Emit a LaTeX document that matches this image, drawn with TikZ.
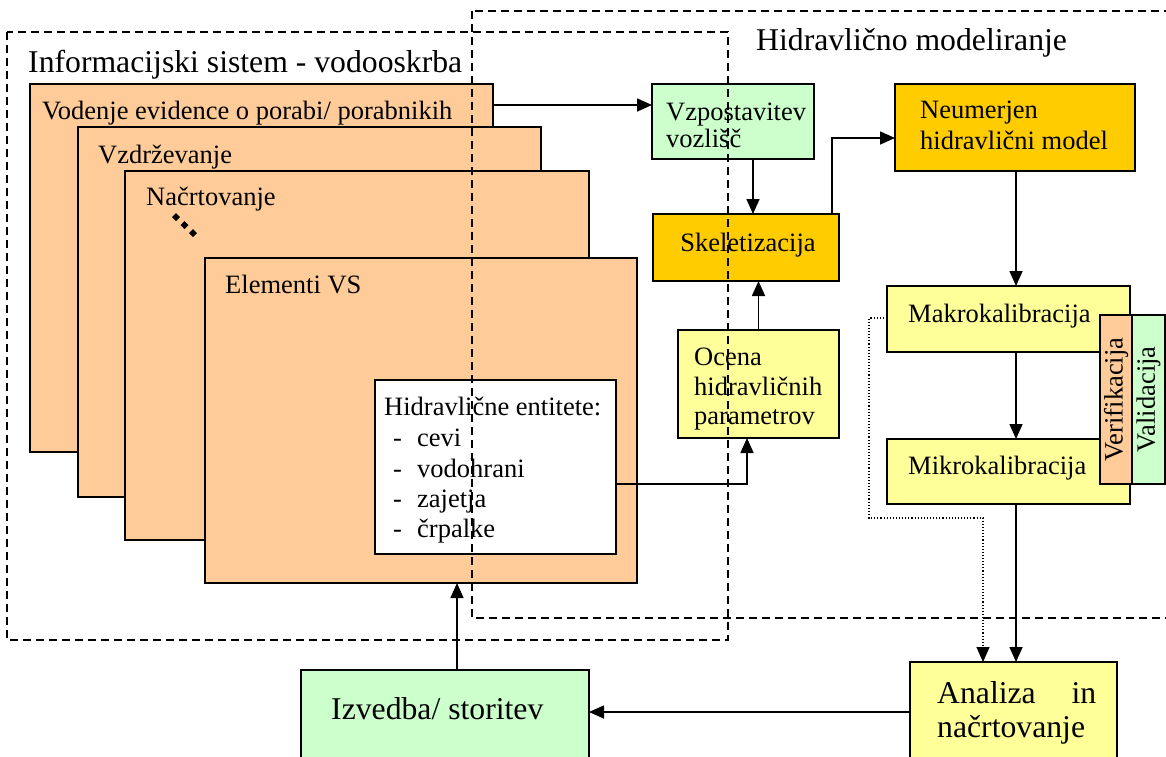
\documentclass[tikz,border=0pt]{standalone}
\usepackage{fontspec}
\setmainfont{Liberation Serif}
\usetikzlibrary{arrows.meta}
\definecolor{peach}{HTML}{FFCC99}
\definecolor{mint}{HTML}{CCFFCC}
\definecolor{gold}{HTML}{FFCC00}
\definecolor{lemon}{HTML}{FFFF99}

\begin{document}
\begin{tikzpicture}[x=1pt,y=-1pt,
  blk/.style={draw=black, line width=1.8pt, inner sep=0pt, outer sep=0pt, anchor=north west},
  lbl/.style={inner sep=0pt, anchor=base west, font=\fontsize{26.5}{30}\selectfont},
  biglbl/.style={inner sep=0pt, anchor=base west, font=\fontsize{31.7}{34}\selectfont},
  conn/.style={line width=1.6pt, -{Triangle[length=15pt,width=13pt]}},
  dots/.style={line width=1.1pt, dotted, -{Triangle[length=15pt,width=13pt]}},
  frame/.style={line width=1.6pt, dash pattern=on 8pt off 5pt},
]
\useasboundingbox (0,0) rectangle (1166,756);
\clip (0,0) rectangle (1166,756);

% ---- stacked application layers
\node[blk, fill=peach, minimum width=463pt, minimum height=368pt] (ev) at (30,84) {};
\node[blk, fill=peach, minimum width=463pt, minimum height=370pt] (vd) at (78,127) {};
\node[blk, fill=peach, minimum width=464pt, minimum height=369pt] (nc) at (125,171) {};
\node[blk, fill=peach, minimum width=432pt, minimum height=325pt] (el) at (205,258) {};
\node[blk, fill=white, minimum width=241pt, minimum height=174pt] (hb) at (375,380) {};

\node[lbl] (evT) at (42,119) {Vodenje evidence o porabi/ porabnikih};
\node[lbl] (vdT) at (98,163) {Vzdrževanje};
\node[lbl] (ncT) at (146,205) {Načrtovanje};
\node[lbl] (elT) at (225,293) {Elementi VS};
\foreach \p [count=\i] in {(176,217),(184.5,225),(193,233)}
  \fill \p ++(0,-4) -- ++(4,4) -- ++(-4,4) -- ++(-4,-4) -- cycle;

\node[lbl] (hbT) at (384,415) {Hidravlične entitete:};
\foreach \t/\yy [count=\i] in {cevi/446,vodohrani/477,zajetja/507,črpalke/537}
  \node[lbl] (hbI\i) at (393,\yy) {\makebox[24pt][l]{-}\t};

% ---- hydraulic modelling blocks
\node[blk, fill=mint,  minimum width=162pt, minimum height=75pt] (vz) at (652,84) {};
\node[lbl] (vzT1) at (666,120) {Vzpostavitev};
\node[lbl] (vzT2) at (666,147) {vozlišč};

\node[blk, fill=gold,  minimum width=240pt, minimum height=87pt] (nm) at (895,84) {};
\node[lbl] (nmT1) at (920,118) {Neumerjen};
\node[lbl] (nmT2) at (920,149) {hidravlični model};

\node[blk, fill=gold,  minimum width=186pt, minimum height=67pt] (sk) at (653,214) {};
\node[lbl, anchor=base] (skT) at (748,251) {Skeletizacija};

\node[blk, fill=lemon, minimum width=161pt, minimum height=108pt] (oc) at (678,330) {};
\node[lbl] (ocT1) at (694,365) {Ocena};
\node[lbl] (ocT2) at (694,395) {hidravličnih};
\node[lbl] (ocT3) at (694,424) {parametrov};

\node[blk, fill=lemon, minimum width=243pt, minimum height=66pt] (mk) at (887,286) {};
\node[lbl] (mkT) at (908,322) {Makrokalibracija};
\node[blk, fill=lemon, minimum width=243pt, minimum height=65pt] (mi) at (887,439) {};
\node[lbl] (miT) at (908,474) {Mikrokalibracija};

\node[draw=black, line width=1.8pt, fill=mint, inner sep=0pt, rotate=90,
      minimum width=169pt, minimum height=33pt, font=\fontsize{26.5}{30}\selectfont]
      (va) at (1148.5,399.5) {Validacija};
\node[draw=black, line width=1.8pt, fill=peach, inner sep=0pt, rotate=90,
      minimum width=169pt, minimum height=32pt, font=\fontsize{26.5}{30}\selectfont]
      (ve) at (1116,399.5) {Verifikacija};

% ---- outcome blocks
\node[blk, fill=lemon, minimum width=207pt, minimum height=110pt] (an) at (910,662) {};
\node[biglbl] (anT1) at (937,703) {\hbox to 159pt{Analiza\hfill in}};
\node[biglbl] (anT2) at (937,737) {načrtovanje};
\node[blk, fill=mint,  minimum width=288pt, minimum height=100pt] (iz) at (301,670) {};
\node[biglbl] (izT) at (331,719) {Izvedba/ storitev};

% ---- connectors
\coordinate (rowA) at (0,105);
\coordinate (colA) at (753,0);
\coordinate (elbB) at (832,138);
\coordinate (colC) at (1016,0);
\coordinate (elbD) at (747,484);
\coordinate (rowE) at (0,712);
\coordinate (colF) at (457,0);
\coordinate (dotL) at (869,518);
\coordinate (colG) at (983,0);

\draw[conn] (ev.east |- rowA) -- (vz.west |- rowA);
\draw[conn] (vz.south -| colA) -- (sk.north -| colA);
\draw[conn] (sk.north -| elbB) |- (nm.west |- elbB);
\draw[conn] (nm.south -| colC) -- (mk.north -| colC);
\draw[conn] (mk.south -| colC) -- (mi.north -| colC);
\draw[conn] (mi.south -| colC) -- (an.north -| colC);
\draw[conn] (oc.north) -- (oc.north |- sk.south);
\draw[conn] (hb.east |- elbD) -| (elbD |- oc.south);
\draw[conn] (an.west |- rowE) -- (iz.east |- rowE);
\draw[conn] (iz.north -| colF) -- (el.south -| colF);
\draw[dots] (mk.west |- 0,318) -| (dotL) -| (an.north -| colG);

% ---- dashed system boundaries
\draw[frame] (7,32) rectangle (728,640);
\draw[frame] (472,11) rectangle (1190,618);
\node[biglbl] (isT) at (28,72) {Informacijski sistem - vodooskrba};
\node[biglbl] (hmT) at (756,50) {Hidravlično modeliranje};
\end{tikzpicture}
\end{document}
